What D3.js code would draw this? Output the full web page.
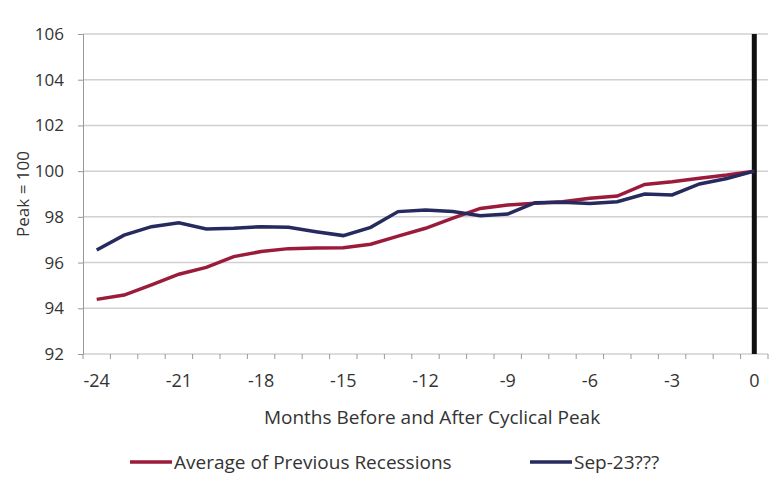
<!DOCTYPE html>
<html>
<head>
<meta charset="utf-8">
<script src="https://cdn.jsdelivr.net/npm/d3@7"></script>
<style>
body { margin: 0; background: #fff; }
text { font-family: "Open Sans", sans-serif; fill: #333; }
</style>
</head>
<body>
<div class="container"></div>
<script>
var months = d3.range(-24, 1);
var avgPrev = [94.39, 94.58, 95.02, 95.49, 95.79, 96.26, 96.48, 96.61, 96.64, 96.65,
               96.8, 97.16, 97.5, 97.94, 98.37, 98.52, 98.6, 98.66, 98.81, 98.91,
               99.42, 99.54, 99.69, 99.83, 100];
var sep23 = [96.55, 97.2, 97.57, 97.74, 97.47, 97.5, 97.57, 97.54, 97.35, 97.18,
             97.54, 98.23, 98.3, 98.23, 98.05, 98.12, 98.62, 98.64, 98.58, 98.66,
             99.0, 98.96, 99.44, 99.68, 100];
var yTicks = [92, 94, 96, 98, 100, 102, 104, 106];
var xLabels = [-24, -21, -18, -15, -12, -9, -6, -3, 0];

var W = 776, H = 488;
var plotL = 83, plotR = 768, plotT = 34, plotB = 354;

var svg = d3.select(".container").append("svg")
            .attr("width", W)
            .attr("height", H);

var x = d3.scaleBand().domain(months).range([plotL, plotR]);
var y = d3.scaleLinear().domain([92, 106]).range([plotB, plotT]);
function cx(m) { return x(m) + x.bandwidth() / 2; }

// gridlines
svg.append("g").selectAll("line").data(yTicks).enter().append("line")
   .attr("x1", plotL).attr("x2", plotR)
   .attr("y1", function (d) { return y(d); })
   .attr("y2", function (d) { return y(d); })
   .style("stroke", "#d0d0d0").style("stroke-width", "1.5px");

// y axis
var yAxis = svg.append("g").attr("transform", "translate(" + plotL + ",0)")
   .call(d3.axisLeft(y).tickValues(yTicks).tickSize(5).tickPadding(14));
yAxis.select(".domain").style("stroke", "#999");
yAxis.selectAll(".tick line").style("stroke", "#999");
yAxis.selectAll("text").style("font-size", "17px").style("fill", "#333")
     .style("font-family", "'Open Sans', sans-serif");

// x axis: ticks between categories
var edges = d3.range(0, months.length + 1).map(function (i) { return plotL + i * x.bandwidth(); });
svg.append("g").selectAll("line").data(edges).enter().append("line")
   .attr("x1", function (d) { return d; }).attr("x2", function (d) { return d; })
   .attr("y1", plotB).attr("y2", plotB + 5)
   .style("stroke", "#999");
svg.append("g").selectAll("text").data(xLabels).enter().append("text")
   .attr("x", function (d) { return cx(d); })
   .attr("y", plotB + 33)
   .attr("text-anchor", "middle")
   .style("font-size", "18px")
   .text(function (d) { return d; });

// peak line
svg.append("line")
   .attr("x1", cx(0)).attr("x2", cx(0))
   .attr("y1", plotT).attr("y2", plotB)
   .style("stroke", "#111").style("stroke-width", "5px");

var line = d3.line()
   .x(function (d, i) { return cx(months[i]); })
   .y(function (d) { return y(d); });

svg.append("path").datum(avgPrev).attr("d", line)
   .style("fill", "none").style("stroke", "#9b1b3a").style("stroke-width", "3.5px");
svg.append("path").datum(sep23).attr("d", line)
   .style("fill", "none").style("stroke", "#262a5e").style("stroke-width", "3.5px");

// axis titles
svg.append("text")
   .attr("transform", "translate(29," + (plotT + plotB) / 2 + ") rotate(-90)")
   .attr("text-anchor", "middle")
   .style("font-size", "17px")
   .text("Peak = 100");
svg.append("text")
   .attr("x", 432).attr("y", 424)
   .attr("text-anchor", "middle")
   .style("font-size", "19px")
   .text("Months Before and After Cyclical Peak");

// legend
var legend = [
  {"name": "Average of Previous Recessions", "color": "#9b1b3a", "x": 130},
  {"name": "Sep-23???", "color": "#262a5e", "x": 530}
];
legend.forEach(function (l) {
  svg.append("line")
     .attr("x1", l.x).attr("x2", l.x + 42)
     .attr("y1", 462).attr("y2", 462)
     .style("stroke", l.color).style("stroke-width", "3.5px");
  svg.append("text")
     .attr("x", l.x + 44).attr("y", 469)
     .style("font-size", "19px")
     .text(l.name);
});
</script>
</body>
</html>
